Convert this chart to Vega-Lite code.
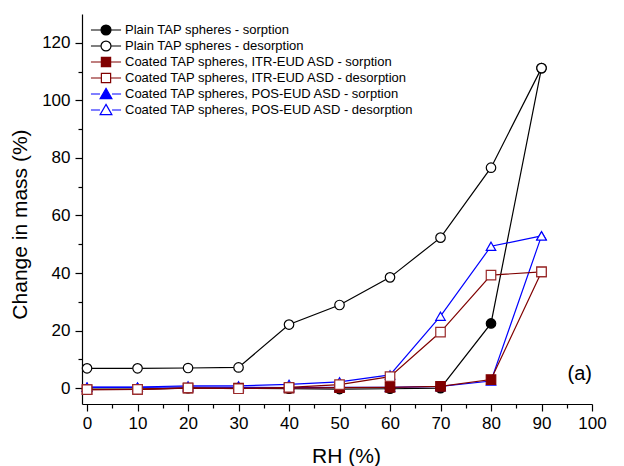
{
  "$schema": "https://vega.github.io/schema/vega-lite/v6.json",
  "width": 510,
  "height": 390,
  "autosize": "none",
  "padding": {"left": 82, "top": 14, "right": 32, "bottom": 62},
  "background": "white",
  "config": {
    "font": "Liberation Sans",
    "view": {"stroke": null},
    "axis": {"grid": false, "domainColor": "black", "tickColor": "black", "labelColor": "black", "titleColor": "black", "titleFontWeight": "normal", "domainWidth": 1.2, "tickWidth": 1.2, "labelFlush": false}
  },
  "data": {"values": [
    {"rh": 0, "m": -0.3, "series": "Plain TAP spheres - sorption"},
    {"rh": 10, "m": -0.3, "series": "Plain TAP spheres - sorption"},
    {"rh": 20, "m": 0.0, "series": "Plain TAP spheres - sorption"},
    {"rh": 30, "m": 0.0, "series": "Plain TAP spheres - sorption"},
    {"rh": 40, "m": -0.2, "series": "Plain TAP spheres - sorption"},
    {"rh": 50, "m": -0.3, "series": "Plain TAP spheres - sorption"},
    {"rh": 60, "m": -0.2, "series": "Plain TAP spheres - sorption"},
    {"rh": 70, "m": 0.0, "series": "Plain TAP spheres - sorption"},
    {"rh": 80, "m": 22.5, "series": "Plain TAP spheres - sorption"},
    {"rh": 90, "m": 111.2, "series": "Plain TAP spheres - sorption"},
    {"rh": 0, "m": 6.9, "series": "Plain TAP spheres - desorption"},
    {"rh": 10, "m": 6.9, "series": "Plain TAP spheres - desorption"},
    {"rh": 20, "m": 7.0, "series": "Plain TAP spheres - desorption"},
    {"rh": 30, "m": 7.2, "series": "Plain TAP spheres - desorption"},
    {"rh": 40, "m": 22.1, "series": "Plain TAP spheres - desorption"},
    {"rh": 50, "m": 28.9, "series": "Plain TAP spheres - desorption"},
    {"rh": 60, "m": 38.5, "series": "Plain TAP spheres - desorption"},
    {"rh": 70, "m": 52.3, "series": "Plain TAP spheres - desorption"},
    {"rh": 80, "m": 76.6, "series": "Plain TAP spheres - desorption"},
    {"rh": 90, "m": 111.2, "series": "Plain TAP spheres - desorption"},
    {"rh": 0, "m": 0.3, "series": "Coated TAP spheres, POS-EUD ASD - sorption"},
    {"rh": 10, "m": 0.3, "series": "Coated TAP spheres, POS-EUD ASD - sorption"},
    {"rh": 20, "m": 0.4, "series": "Coated TAP spheres, POS-EUD ASD - sorption"},
    {"rh": 30, "m": 0.3, "series": "Coated TAP spheres, POS-EUD ASD - sorption"},
    {"rh": 40, "m": 0.2, "series": "Coated TAP spheres, POS-EUD ASD - sorption"},
    {"rh": 50, "m": 0.3, "series": "Coated TAP spheres, POS-EUD ASD - sorption"},
    {"rh": 60, "m": 0.3, "series": "Coated TAP spheres, POS-EUD ASD - sorption"},
    {"rh": 70, "m": 0.6, "series": "Coated TAP spheres, POS-EUD ASD - sorption"},
    {"rh": 80, "m": 2.5, "series": "Coated TAP spheres, POS-EUD ASD - sorption"},
    {"rh": 90, "m": 52.9, "series": "Coated TAP spheres, POS-EUD ASD - sorption"},
    {"rh": 0, "m": 0.4, "series": "Coated TAP spheres, POS-EUD ASD - desorption"},
    {"rh": 10, "m": 0.4, "series": "Coated TAP spheres, POS-EUD ASD - desorption"},
    {"rh": 20, "m": 0.8, "series": "Coated TAP spheres, POS-EUD ASD - desorption"},
    {"rh": 30, "m": 0.8, "series": "Coated TAP spheres, POS-EUD ASD - desorption"},
    {"rh": 40, "m": 1.3, "series": "Coated TAP spheres, POS-EUD ASD - desorption"},
    {"rh": 50, "m": 2.2, "series": "Coated TAP spheres, POS-EUD ASD - desorption"},
    {"rh": 60, "m": 4.6, "series": "Coated TAP spheres, POS-EUD ASD - desorption"},
    {"rh": 70, "m": 25.0, "series": "Coated TAP spheres, POS-EUD ASD - desorption"},
    {"rh": 80, "m": 49.3, "series": "Coated TAP spheres, POS-EUD ASD - desorption"},
    {"rh": 90, "m": 52.9, "series": "Coated TAP spheres, POS-EUD ASD - desorption"},
    {"rh": 0, "m": -0.5, "series": "Coated TAP spheres, ITR-EUD ASD - sorption"},
    {"rh": 10, "m": -0.4, "series": "Coated TAP spheres, ITR-EUD ASD - sorption"},
    {"rh": 20, "m": 0.0, "series": "Coated TAP spheres, ITR-EUD ASD - sorption"},
    {"rh": 30, "m": 0.0, "series": "Coated TAP spheres, ITR-EUD ASD - sorption"},
    {"rh": 40, "m": 0.0, "series": "Coated TAP spheres, ITR-EUD ASD - sorption"},
    {"rh": 50, "m": 0.2, "series": "Coated TAP spheres, ITR-EUD ASD - sorption"},
    {"rh": 60, "m": 0.3, "series": "Coated TAP spheres, ITR-EUD ASD - sorption"},
    {"rh": 70, "m": 0.6, "series": "Coated TAP spheres, ITR-EUD ASD - sorption"},
    {"rh": 80, "m": 3.0, "series": "Coated TAP spheres, ITR-EUD ASD - sorption"},
    {"rh": 90, "m": 40.4, "series": "Coated TAP spheres, ITR-EUD ASD - sorption"},
    {"rh": 0, "m": -0.5, "series": "Coated TAP spheres, ITR-EUD ASD - desorption"},
    {"rh": 10, "m": -0.4, "series": "Coated TAP spheres, ITR-EUD ASD - desorption"},
    {"rh": 20, "m": 0.1, "series": "Coated TAP spheres, ITR-EUD ASD - desorption"},
    {"rh": 30, "m": -0.2, "series": "Coated TAP spheres, ITR-EUD ASD - desorption"},
    {"rh": 40, "m": 0.3, "series": "Coated TAP spheres, ITR-EUD ASD - desorption"},
    {"rh": 50, "m": 1.2, "series": "Coated TAP spheres, ITR-EUD ASD - desorption"},
    {"rh": 60, "m": 4.0, "series": "Coated TAP spheres, ITR-EUD ASD - desorption"},
    {"rh": 70, "m": 19.5, "series": "Coated TAP spheres, ITR-EUD ASD - desorption"},
    {"rh": 80, "m": 39.3, "series": "Coated TAP spheres, ITR-EUD ASD - desorption"},
    {"rh": 90, "m": 40.4, "series": "Coated TAP spheres, ITR-EUD ASD - desorption"}
  ]},
  "layer": [
    {
      "mark": {"type": "line", "strokeWidth": 1.2},
      "encoding": {
        "x": {"field": "rh", "type": "quantitative", "scale": {"domain": [-1, 100], "nice": false, "zero": false},
              "axis": {"orient": "bottom", "values": [0, 10, 20, 30, 40, 50, 60, 70, 80, 90, 100], "tickSize": 7, "labelFontSize": 17, "labelPadding": 4, "title": "RH (%)", "titleFontSize": 21, "titlePadding": 14, "titleX": 264}},
        "y": {"field": "m", "type": "quantitative", "scale": {"domain": [-5.5, 130], "nice": false, "zero": false},
              "axis": {"orient": "left", "values": [0, 20, 40, 60, 80, 100, 120], "tickSize": 7, "labelFontSize": 17, "labelPadding": 5, "title": "Change in mass (%)", "titleFontSize": 21, "titlePadding": 11, "titleY": 210}},
        "stroke": {"field": "series", "type": "nominal", "legend": null,
                   "scale": {"domain": ["Plain TAP spheres - sorption", "Plain TAP spheres - desorption", "Coated TAP spheres, ITR-EUD ASD - sorption", "Coated TAP spheres, ITR-EUD ASD - desorption", "Coated TAP spheres, POS-EUD ASD - sorption", "Coated TAP spheres, POS-EUD ASD - desorption"],
                             "range": ["black", "black", "#800000", "#800000", "#0000ff", "#0000ff"]}}
      }
    },
    {
      "mark": {"type": "point", "filled": false, "opacity": 1, "strokeWidth": 1.2},
      "encoding": {
        "x": {"field": "rh", "type": "quantitative", "scale": {"domain": [-1, 100], "nice": false, "zero": false},
              "axis": {"orient": "bottom", "values": [5, 15, 25, 35, 45, 55, 65, 75, 85, 95], "tickSize": 4, "labels": false, "domain": false, "title": null}},
        "y": {"field": "m", "type": "quantitative", "scale": {"domain": [-5.5, 130], "nice": false, "zero": false},
              "axis": {"orient": "left", "values": [10, 30, 50, 70, 90, 110], "tickSize": 4, "labels": false, "domain": false, "title": null}},
        "shape": {"field": "series", "type": "nominal", "legend": null,
                  "scale": {"domain": ["Plain TAP spheres - sorption", "Plain TAP spheres - desorption", "Coated TAP spheres, ITR-EUD ASD - sorption", "Coated TAP spheres, ITR-EUD ASD - desorption", "Coated TAP spheres, POS-EUD ASD - sorption", "Coated TAP spheres, POS-EUD ASD - desorption"],
                            "range": ["circle", "circle", "square", "square", "triangle-up", "triangle-up"]}},
        "fill": {"field": "series", "type": "nominal", "legend": null,
                 "scale": {"domain": ["Plain TAP spheres - sorption", "Plain TAP spheres - desorption", "Coated TAP spheres, ITR-EUD ASD - sorption", "Coated TAP spheres, ITR-EUD ASD - desorption", "Coated TAP spheres, POS-EUD ASD - sorption", "Coated TAP spheres, POS-EUD ASD - desorption"],
                           "range": ["black", "white", "#800000", "white", "#0000ff", "white"]}},
        "stroke": {"field": "series", "type": "nominal", "legend": null,
                   "scale": {"domain": ["Plain TAP spheres - sorption", "Plain TAP spheres - desorption", "Coated TAP spheres, ITR-EUD ASD - sorption", "Coated TAP spheres, ITR-EUD ASD - desorption", "Coated TAP spheres, POS-EUD ASD - sorption", "Coated TAP spheres, POS-EUD ASD - desorption"],
                             "range": ["black", "black", "#800000", "#9a2a2a", "#0000ff", "#0000ff"]}},
        "size": {"field": "series", "type": "nominal", "legend": null,
                 "scale": {"domain": ["Plain TAP spheres - sorption", "Plain TAP spheres - desorption", "Coated TAP spheres, ITR-EUD ASD - sorption", "Coated TAP spheres, ITR-EUD ASD - desorption", "Coated TAP spheres, POS-EUD ASD - sorption", "Coated TAP spheres, POS-EUD ASD - desorption"],
                           "range": [90, 90, 90, 90, 110, 110]}}
      }
    },
    {
      "transform": [{"filter": "datum.rh < -100"}],
      "mark": {"type": "point", "filled": false, "opacity": 1, "strokeWidth": 1.2},
      "encoding": {
        "x": {"field": "rh", "type": "quantitative", "scale": {"domain": [-1, 100], "nice": false, "zero": false}, "axis": null},
        "y": {"field": "m", "type": "quantitative", "scale": {"domain": [-5.5, 130], "nice": false, "zero": false}, "axis": null},
        "shape": {"field": "series", "type": "nominal",
                  "scale": {"domain": ["Plain TAP spheres - sorption", "Plain TAP spheres - desorption", "Coated TAP spheres, ITR-EUD ASD - sorption", "Coated TAP spheres, ITR-EUD ASD - desorption", "Coated TAP spheres, POS-EUD ASD - sorption", "Coated TAP spheres, POS-EUD ASD - desorption"],
                            "range": ["M-2.15,0L-0.78,0M0.78,0L2.15,0M0.71,0A0.71,0.71,0,1,1,-0.71,0A0.71,0.71,0,1,1,0.71,0Z",
                                      "M-2.15,0L-0.78,0M0.78,0L2.15,0M0.71,0A0.71,0.71,0,1,1,-0.71,0A0.71,0.71,0,1,1,0.71,0Z",
                                      "M-2.15,0L-0.72,0M0.72,0L2.15,0M-0.66,-0.66L0.66,-0.66L0.66,0.66L-0.66,0.66Z",
                                      "M-2.15,0L-0.72,0M0.72,0L2.15,0M-0.66,-0.66L0.66,-0.66L0.66,0.66L-0.66,0.66Z",
                                      "M-2.15,0L-0.86,0M0.86,0L2.15,0M0,-0.8L0.84,0.66L-0.84,0.66Z",
                                      "M-2.15,0L-0.86,0M0.86,0L2.15,0M0,-0.8L0.84,0.66L-0.84,0.66Z"]},
                  "legend": {"title": null, "orient": "none", "legendX": 16, "legendY": 8, "labelFontSize": 13, "labelColor": "black", "symbolSize": 196, "symbolStrokeWidth": 1.2, "symbolOpacity": 1, "rowPadding": 0, "labelOffset": 11, "labelLimit": 400}},
        "fill": {"field": "series", "type": "nominal",
                 "scale": {"domain": ["Plain TAP spheres - sorption", "Plain TAP spheres - desorption", "Coated TAP spheres, ITR-EUD ASD - sorption", "Coated TAP spheres, ITR-EUD ASD - desorption", "Coated TAP spheres, POS-EUD ASD - sorption", "Coated TAP spheres, POS-EUD ASD - desorption"],
                           "range": ["black", "white", "#800000", "white", "#0000ff", "white"]}},
        "stroke": {"field": "series", "type": "nominal",
                   "scale": {"domain": ["Plain TAP spheres - sorption", "Plain TAP spheres - desorption", "Coated TAP spheres, ITR-EUD ASD - sorption", "Coated TAP spheres, ITR-EUD ASD - desorption", "Coated TAP spheres, POS-EUD ASD - sorption", "Coated TAP spheres, POS-EUD ASD - desorption"],
                             "range": ["black", "black", "#800000", "#800000", "#0000ff", "#0000ff"]}}
      }
    },
    {
      "data": {"values": [{"rh": 100, "m": 4.9, "label": "(a)"}]},
      "mark": {"type": "text", "align": "right", "baseline": "middle", "fontSize": 20, "color": "black"},
      "encoding": {
        "x": {"field": "rh", "type": "quantitative", "scale": {"domain": [-1, 100], "nice": false, "zero": false}, "axis": null},
        "y": {"field": "m", "type": "quantitative", "scale": {"domain": [-5.5, 130], "nice": false, "zero": false}, "axis": null},
        "text": {"field": "label"}
      }
    }
  ],
  "resolve": {
    "scale": {"shape": "independent", "fill": "independent", "stroke": "independent", "size": "independent"},
    "axis": {"x": "independent", "y": "independent"}
  }
}
